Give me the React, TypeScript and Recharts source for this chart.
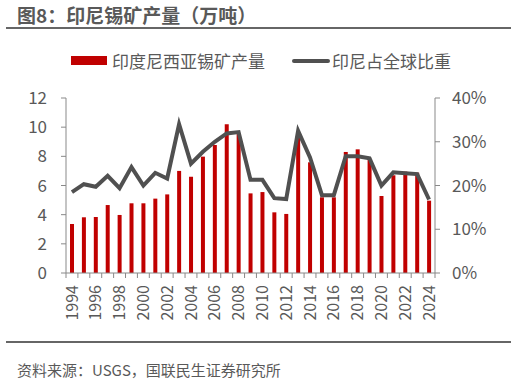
import React from "react";
import { ComposedChart, Bar, Line, XAxis, YAxis } from "recharts";

const years = [
  "1994", "1995", "1996", "1997", "1998", "1999", "2000", "2001", "2002", "2003", "2004",
  "2005", "2006", "2007", "2008", "2009", "2010", "2011", "2012", "2013", "2014", "2015",
  "2016", "2017", "2018", "2019", "2020", "2021", "2022", "2023", "2024",
];
// 印度尼西亚锡矿产量（万吨）
const production = [
  3.36, 3.82, 3.84, 4.66, 3.98, 4.78, 4.78, 5.1, 5.39, 7.0, 6.6,
  7.98, 8.78, 10.2, 9.58, 5.46, 5.55, 4.16, 4.05, 9.3, 7.59, 5.19,
  5.19, 8.3, 8.48, 7.75, 5.28, 6.7, 6.95, 6.88, 4.96,
];
// 印尼占全球比重 (%)
const share = [
  18.5, 20.3, 19.7, 22.2, 19.4, 24.2, 20.0, 22.9, 21.6, 34.0, 25.0,
  27.7, 30.0, 31.9, 32.2, 21.3, 21.3, 17.1, 16.9, 32.5, 26.4, 17.8,
  17.8, 26.7, 26.7, 26.2, 20.0, 23.0, 22.8, 22.6, 16.8,
];
const leftTicks = [0, 2, 4, 6, 8, 10, 12];
const rightTicks = [0, 10, 20, 30, 40];

const data = years.map((year, i) => ({ year, production: production[i], share: share[i] }));

const FONT = '"Noto Sans CJK SC", "Noto Sans", sans-serif';
const TEXT = "#595959";
const AXIS = "#898989";
const RED = "#C00000";
const GREY = "#505050";

function XTick(props: any) {
  const { x, y, payload, index } = props;
  const half = payload?.offset || 5.95;
  const last = index === years.length - 1;
  return (
    <g>
      <line x1={x - half} x2={x - half} y1={y} y2={y + 5} stroke={AXIS} />
      {last && <line x1={x + half} x2={x + half} y1={y} y2={y + 5} stroke={AXIS} />}
      {index % 2 === 0 && (
        <text
          transform={`translate(${x},${y + 12}) rotate(-90)`}
          textAnchor="end"
          dy="0.35em"
          fontSize={16}
          fill={TEXT}
          fontFamily={FONT}
        >
          {payload.value}
        </text>
      )}
    </g>
  );
}

export default function App() {
  const tickStyle = { fontSize: 17, fill: TEXT, fontFamily: FONT };
  return (
    <div
      style={{
        position: "absolute",
        left: 0,
        top: 0,
        width: 516,
        height: 383,
        background: "#fff",
        fontFamily: FONT,
        color: TEXT,
      }}
    >
      <div style={{ position: "absolute", left: 17, top: 4, fontSize: 19, lineHeight: "22px", fontWeight: 700 }}>
        图8：印尼锡矿产量（万吨）
      </div>
      <div style={{ position: "absolute", left: 6, top: 27, width: 505, height: 2, background: "#666" }} />

      <div style={{ position: "absolute", left: 71, top: 56, width: 36, height: 9, background: RED }} />
      <div style={{ position: "absolute", left: 112, top: 50, fontSize: 17, lineHeight: "22px" }}>
        印度尼西亚锡矿产量
      </div>
      <div style={{ position: "absolute", left: 292, top: 59, width: 38, height: 4, borderRadius: 2, background: GREY }} />
      <div style={{ position: "absolute", left: 332, top: 50, fontSize: 17, lineHeight: "22px" }}>
        印尼占全球比重
      </div>

      <div style={{ position: "absolute", left: 0, top: 0 }}>
        <ComposedChart width={516} height={340} data={data} margin={{ top: 98, right: 0, bottom: 0, left: 0 }}>
          <XAxis
            dataKey="year"
            height={67}
            interval={0}
            tickLine={false}
            tickSize={0}
            tickMargin={0}
            axisLine={{ stroke: AXIS }}
            tick={<XTick />}
          />
          <YAxis
            yAxisId="l"
            domain={[0, 12]}
            ticks={leftTicks}
            width={66}
            tickSize={5}
            tickMargin={14}
            tick={tickStyle}
            axisLine={{ stroke: AXIS }}
            tickLine={{ stroke: AXIS }}
          />
          <YAxis
            yAxisId="r"
            orientation="right"
            domain={[0, 40]}
            ticks={rightTicks}
            width={81}
            tickSize={5}
            tickMargin={12}
            tick={tickStyle}
            tickFormatter={(v) => `${v}%`}
            axisLine={{ stroke: AXIS }}
            tickLine={{ stroke: AXIS }}
          />
          <Bar yAxisId="l" dataKey="production" fill={RED} barSize={4} isAnimationActive={false} />
          <Line
            yAxisId="r"
            type="linear"
            dataKey="share"
            stroke={GREY}
            strokeWidth={4}
            dot={false}
            isAnimationActive={false}
          />
        </ComposedChart>
      </div>

      <div style={{ position: "absolute", left: 6, top: 341, width: 505, height: 2, background: "#666" }} />
      <div style={{ position: "absolute", left: 17, top: 359, fontSize: 15, lineHeight: "22px" }}>
        资料来源：USGS，国联民生证券研究所
      </div>
    </div>
  );
}
